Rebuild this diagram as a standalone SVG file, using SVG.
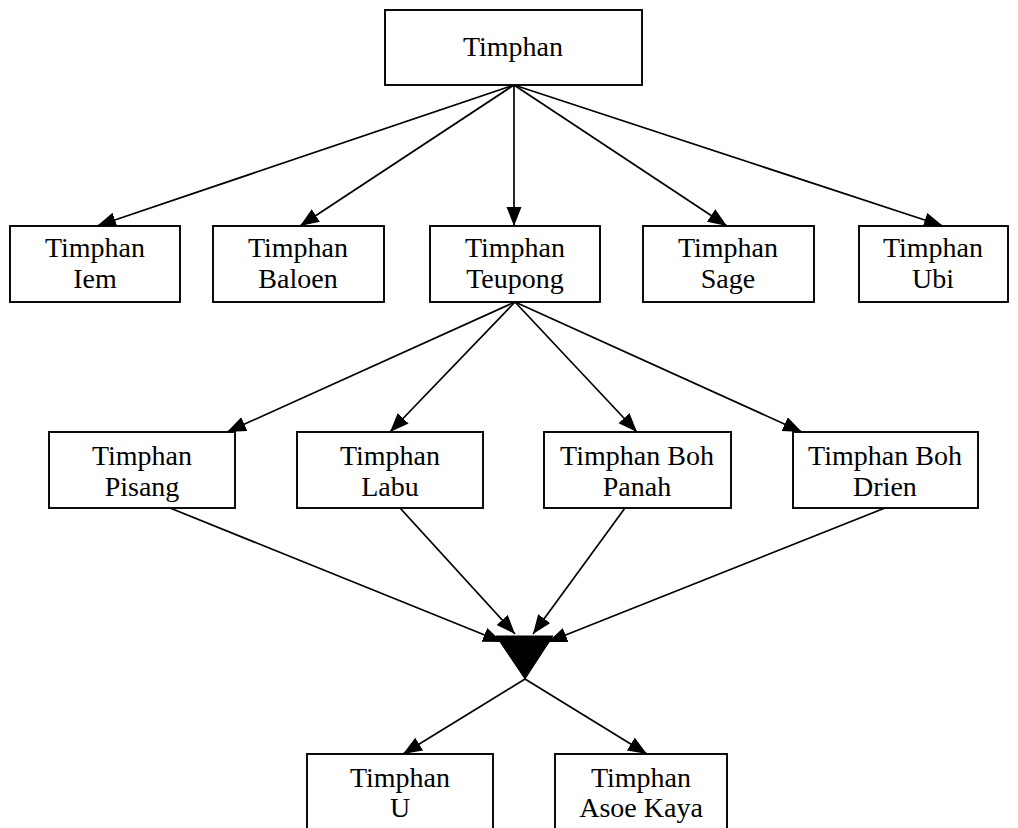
<svg xmlns="http://www.w3.org/2000/svg" width="1018" height="828" viewBox="0 0 1018 828">
<style>
.box{fill:#fff;stroke:#000;stroke-width:1.9}
.t{font-family:"Liberation Serif","Times New Roman",serif;font-size:28px;fill:#000;text-anchor:middle}
.c{stroke:#000;stroke-width:1.7;fill:none;marker-end:url(#ah)}
</style>
<defs>
<marker id="ah" markerUnits="userSpaceOnUse" markerWidth="20" markerHeight="16" refX="19" refY="7.5" orient="auto" viewBox="0 0 20 16">
<path d="M0,0 L19,7.5 L0,15 z" fill="#000"/>
</marker>
</defs>
<rect width="1018" height="828" fill="#fff"/>
<g id="connectors">
<line class="c" x1="514" y1="85" x2="97" y2="226"/>
<line class="c" x1="514" y1="85" x2="300" y2="226"/>
<line class="c" x1="514" y1="85" x2="514" y2="226"/>
<line class="c" x1="514" y1="85" x2="727" y2="226"/>
<line class="c" x1="514" y1="85" x2="943" y2="226"/>
<line class="c" x1="515" y1="302" x2="227" y2="432"/>
<line class="c" x1="515" y1="302" x2="390" y2="432"/>
<line class="c" x1="515" y1="302" x2="637" y2="432"/>
<line class="c" x1="515" y1="302" x2="802" y2="432"/>
<line class="c" x1="170" y1="508" x2="502" y2="642"/>
<line class="c" x1="400" y1="508" x2="515" y2="634"/>
<line class="c" x1="625" y1="508" x2="533" y2="634"/>
<line class="c" x1="885" y1="508" x2="548" y2="642"/>
<line class="c" x1="525" y1="679" x2="403" y2="754"/>
<line class="c" x1="525" y1="679" x2="647" y2="754"/>
</g>
<g id="junction">
<polygon points="496,636 553,636 525,679" fill="#000" stroke="#000" stroke-width="1"/>
</g>
<g id="n-timphan">
<rect class="box" x="385" y="10" width="257" height="75"/>
<text class="t" x="513" y="56">Timphan</text>
</g>
<g id="n-iem">
<rect class="box" x="10" y="226" width="170" height="76"/>
<text class="t" x="95" y="257">Timphan</text>
<text class="t" x="95" y="288">Iem</text>
</g>
<g id="n-baloen">
<rect class="box" x="213" y="226" width="171" height="76"/>
<text class="t" x="298" y="257">Timphan</text>
<text class="t" x="298" y="288">Baloen</text>
</g>
<g id="n-teupong">
<rect class="box" x="430" y="226" width="170" height="76"/>
<text class="t" x="515" y="257">Timphan</text>
<text class="t" x="515" y="288">Teupong</text>
</g>
<g id="n-sage">
<rect class="box" x="643" y="226" width="171" height="76"/>
<text class="t" x="728" y="257">Timphan</text>
<text class="t" x="728" y="288">Sage</text>
</g>
<g id="n-ubi">
<rect class="box" x="859" y="226" width="149" height="76"/>
<text class="t" x="933" y="257">Timphan</text>
<text class="t" x="933" y="288">Ubi</text>
</g>
<g id="n-pisang">
<rect class="box" x="49" y="432" width="186" height="76"/>
<text class="t" x="142" y="465">Timphan</text>
<text class="t" x="142" y="496">Pisang</text>
</g>
<g id="n-labu">
<rect class="box" x="297" y="432" width="186" height="76"/>
<text class="t" x="390" y="465">Timphan</text>
<text class="t" x="390" y="496">Labu</text>
</g>
<g id="n-bohpanah">
<rect class="box" x="544" y="432" width="187" height="76"/>
<text class="t" x="637" y="465">Timphan Boh</text>
<text class="t" x="637" y="496">Panah</text>
</g>
<g id="n-bohdrien">
<rect class="box" x="793" y="432" width="185" height="76"/>
<text class="t" x="885" y="465">Timphan Boh</text>
<text class="t" x="885" y="496">Drien</text>
</g>
<g id="n-u">
<rect class="box" x="307" y="754" width="186" height="90"/>
<text class="t" x="400" y="787">Timphan</text>
<text class="t" x="400" y="817">U</text>
</g>
<g id="n-asoekaya">
<rect class="box" x="555" y="754" width="172" height="90"/>
<text class="t" x="641" y="787">Timphan</text>
<text class="t" x="641" y="817">Asoe Kaya</text>
</g>
</svg>
